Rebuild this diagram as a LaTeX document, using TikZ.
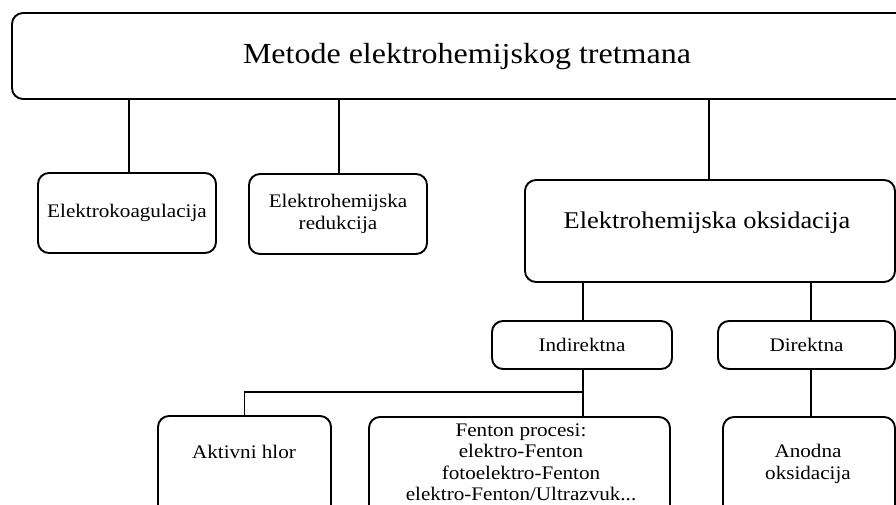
\documentclass[tikz,border=0pt]{standalone}
\usepackage{fontspec}
\setmainfont[FakeStretch=1.1]{Liberation Serif}
\begin{document}
\begin{tikzpicture}[x=1pt,y=-1pt,
  box/.style={draw, line width=1.9pt, rounded corners=11pt, inner sep=0pt},
  conn/.style={line width=1.9pt},
  small/.style={font=\fontsize{19.2}{21.5}\selectfont, align=center, inner sep=0pt},
  mid/.style={font=\fontsize{24}{28}\selectfont, inner sep=0pt},
  big/.style={font=\fontsize{29.1}{32}\selectfont, inner sep=0pt}]
\useasboundingbox (0,0) rectangle (896,504);
\clip (0,0) rectangle (896,504);
% boxes
\node[box, minimum width=910, minimum height=86] (top) at (467,56) {};
\node[big] (topT) at (467,57) {Metode elektrohemijskog tretmana};
\node[box, small, minimum width=178, minimum height=80] (koag) at (127,213) {Elektrokoagulacija};
\node[box, small, minimum width=178, minimum height=80] (red) at (338,214) {Elektrohemijska\\redukcija};
\node[box, minimum width=370, minimum height=102] (oks) at (710,231) {};
\node[mid] (oksT) at (707,223) {Elektrohemijska oksidacija};
\node[box, small, minimum width=180, minimum height=48] (ind) at (582,345) {Indirektna};
\node[box, small, minimum width=177, minimum height=48] (dir) at (806.5,345) {Direktna};
\node[box, minimum width=173, minimum height=114] (hlor) at (244.5,473) {};
\node[small] (hlorT) at (244,452) {Aktivni hlor};
\node[box, minimum width=301, minimum height=114] (fen) at (519.5,474) {};
\node[small] (fenT) at (521,462.5) {Fenton procesi:\\elektro-Fenton\\fotoelektro-Fenton\\elektro-Fenton/Ultrazvuk...};
\node[box, minimum width=172, minimum height=114] (anod) at (809,474) {};
\node[small] (anodT) at (808,464) {Anodna\\oksidacija};
% connectors
\draw[conn] ([xshift=2]koag.north) -- ([xshift=2]koag.north |- top.south);
\draw[conn] ([xshift=1]red.north) -- ([xshift=1]red.north |- top.south);
\draw[conn] ([xshift=-1]oks.north) -- ([xshift=-1]oks.north |- top.south);
\draw[conn] ([xshift=1]ind.north) -- ([xshift=1]ind.north |- oks.south);
\draw[conn] ([xshift=4.5]dir.north) -- ([xshift=4.5]dir.north |- oks.south);
\draw[conn] ([xshift=1]ind.south) -- ([xshift=1]ind.south |- fen.north);
\coordinate (br) at (583,392);
\draw[conn] (br) -| (hlor.north);
\draw[conn] ([xshift=2]anod.north) -- ([xshift=2]anod.north |- dir.south);
\end{tikzpicture}
\end{document}
